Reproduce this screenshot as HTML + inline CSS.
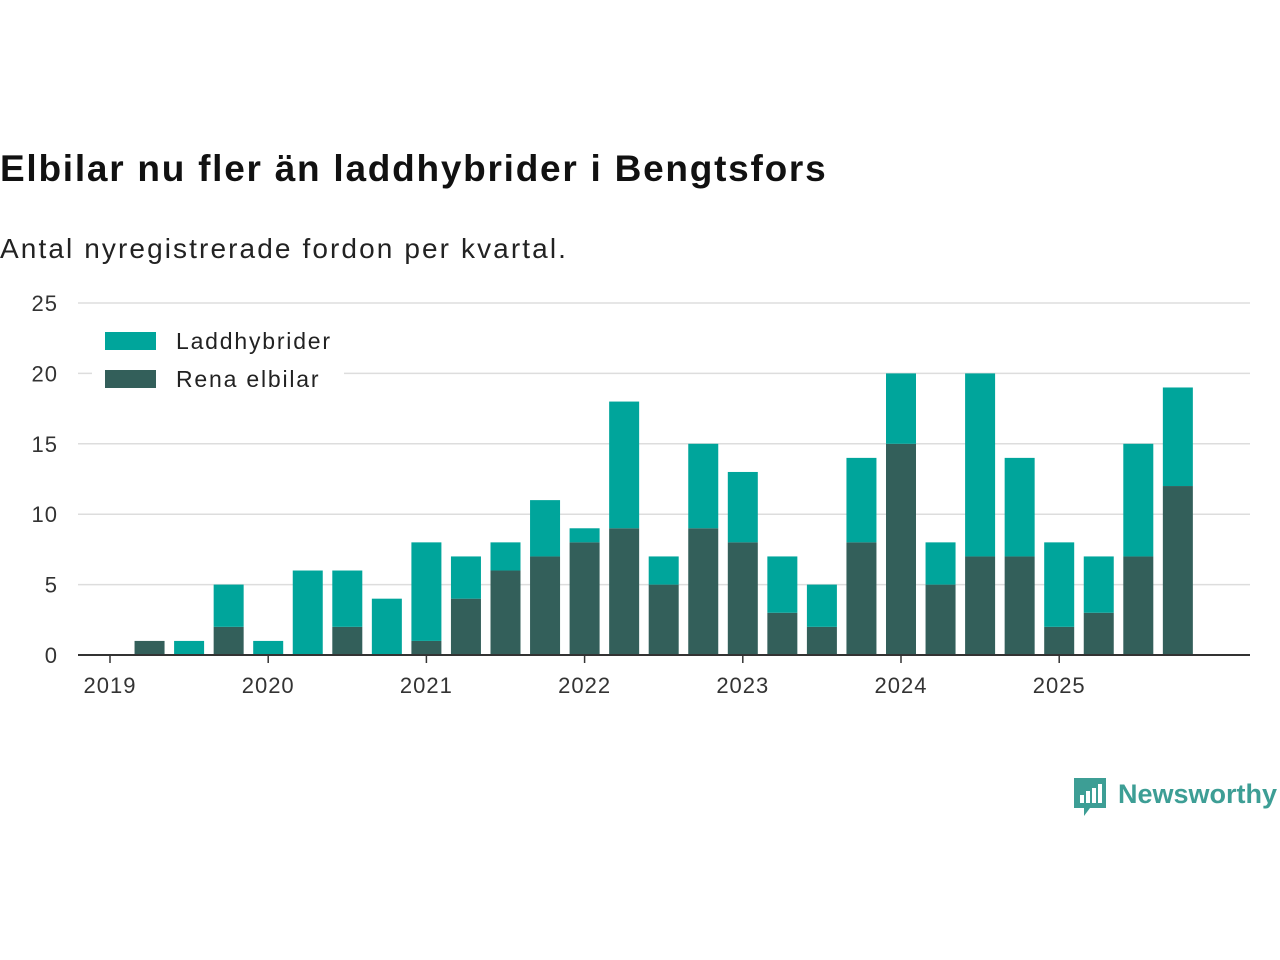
<!DOCTYPE html>
<html><head><meta charset="utf-8"><style>
body{margin:0;background:#fff;font-family:"Liberation Sans",sans-serif;}
#wrap{position:relative;width:1280px;height:960px;overflow:hidden}
h1{position:absolute;left:0;top:148px;margin:0;font-size:37px;font-weight:bold;color:#111;letter-spacing:1.75px}
.sub{position:absolute;left:0;top:233px;font-size:28px;color:#222;letter-spacing:2.1px}
</style></head><body>
<div id="wrap">
<h1>Elbilar nu fler än laddhybrider i Bengtsfors</h1>
<div class="sub">Antal nyregistrerade fordon per kvartal.</div>
<svg id="chart" width="1280" height="960" style="position:absolute;left:0;top:0"></svg>
</div>
<script>
const quarters=["2019Q1","2019Q2","2019Q3","2019Q4","2020Q1","2020Q2","2020Q3","2020Q4","2021Q1","2021Q2","2021Q3","2021Q4","2022Q1","2022Q2","2022Q3","2022Q4","2023Q1","2023Q2","2023Q3","2023Q4","2024Q1","2024Q2","2024Q3","2024Q4","2025Q1","2025Q2","2025Q3","2025Q4"];
const elbilar=[0,1,0,2,0,0,2,0,1,4,6,7,8,9,5,9,8,3,2,8,15,5,7,7,2,3,7,12];
const laddhybrider=[0,0,1,3,1,6,4,4,7,3,2,4,1,9,2,6,5,4,3,6,5,3,13,7,6,4,8,7];
const yTicks=[0,5,10,15,20,25];
const yearLabels=["2019","2020","2021","2022","2023","2024","2025"];

const svg=document.getElementById('chart');
const NS='http://www.w3.org/2000/svg';
const x0=110, step=39.55, bw=30;
const y=v=>655-v*14.08;
const xq=i=>x0+i*step;
function mk(t,a,p){const e=document.createElementNS(NS,t);for(const k in a)e.setAttribute(k,a[k]);(p||svg).appendChild(e);return e;}

yTicks.forEach(v=>{
  if(v>0){const g=mk('line',{x1:78,x2:1250,y1:y(v),y2:y(v),stroke:'#dddddd','stroke-width':1.5});
  
  }
  const t=mk('text',{x:58,y:y(v)+8,'text-anchor':'end','font-size':22,fill:'#333','letter-spacing':1});
  t.textContent=v;
  
  
});

quarters.forEach((q,i)=>{
  const d=elbilar[i], l=laddhybrider[i], cx=xq(i);
  if(d>0){const r=mk('rect',{x:cx-bw/2,y:y(d),width:bw,height:y(0)-y(d),fill:'#335f5a'});
  
  }
  if(l>0){const r=mk('rect',{x:cx-bw/2,y:y(d+l),width:bw,height:y(d)-y(d+l),fill:'#00a59b'});
  
  }
});

const ax=mk('line',{x1:78,x2:1250,y1:655,y2:655,stroke:'#333','stroke-width':2});


yearLabels.forEach((yl,k)=>{
  const cx=xq(k*4);
  const tk=mk('line',{x1:cx,x2:cx,y1:655,y2:663,stroke:'#333','stroke-width':1.5});
  
  
  const t=mk('text',{x:cx,y:693,'text-anchor':'middle','font-size':22,fill:'#333','letter-spacing':1});
  t.textContent=yl;
  
  
});

const lb=mk('rect',{x:92,y:318,width:252,height:80,fill:'#fff'});


[['Laddhybrider','#00a59b',341],['Rena elbilar','#335f5a',379]].forEach(([n,c,yy])=>{
  const s=mk('rect',{x:105,y:yy-9,width:51,height:18,fill:c});
  
  
  const t=mk('text',{x:176,y:yy+8,'font-size':23,fill:'#222','letter-spacing':1.8});
  t.textContent=n;
  
  
});

const lg=mk('g',{});


mk('path',{d:'M1074 778 h32 v30 h-16 l-6 8 v-8 h-10 z',fill:'#3d9e95'},lg);
[[1080,795,4,8],[1086,791,4,12],[1092,788,4,15],[1098,784,4,19]].forEach(([a,b,w,h])=>mk('rect',{x:a,y:b,width:w,height:h,fill:'#fff'},lg));
const lt=mk('text',{x:1118,y:803,'font-size':27,'font-weight':'bold',fill:'#3d9e95'},lg);
lt.textContent='Newsworthy';
</script>
</body></html>
